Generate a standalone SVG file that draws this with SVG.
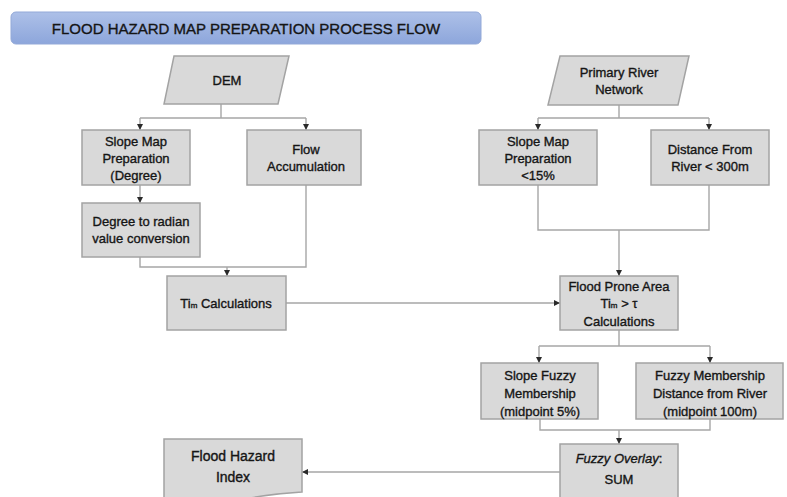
<svg xmlns="http://www.w3.org/2000/svg" width="787" height="497" viewBox="0 0 787 497">
<style>
.box{fill:#d9d9d9;stroke:#a3a3a3;stroke-width:1.5}
.t{font-family:"Liberation Sans",Arial,sans-serif;font-size:13px;fill:#151515;stroke:#151515;stroke-width:0.35;text-anchor:middle}
.c{fill:none;stroke:#a6a6a6;stroke-width:1.4}
</style>
<defs>
<linearGradient id="tg" x1="0" y1="0" x2="0" y2="1">
<stop offset="0" stop-color="#adc0e8"/>
<stop offset="1" stop-color="#8da6db"/>
</linearGradient>
<marker id="ah" viewBox="0 0 6 6" refX="6" refY="3" markerWidth="6" markerHeight="6" markerUnits="userSpaceOnUse" orient="auto">
<path d="M0,0 L6,3 L0,6 Z" fill="#2a2a2a"/>
</marker>
</defs>
<rect width="787" height="497" fill="#ffffff"/>

<g id="title">
<rect x="11" y="12" width="470" height="32" rx="5" fill="url(#tg)" stroke="#93a9d8" stroke-width="1"/>
<text x="246" y="33.5" class="t" style="font-size:15px">FLOOD HAZARD MAP PREPARATION PROCESS FLOW</text>
</g>

<g id="connectors">
<path class="c" d="M221,104 V118 M140,118 H306"/>
<path class="c" d="M140,118 V130" marker-end="url(#ah)"/>
<path class="c" d="M306,118 V130" marker-end="url(#ah)"/>
<path class="c" d="M140,185 V203" marker-end="url(#ah)"/>
<path class="c" d="M140,257 V267 H306 V185"/>
<path class="c" d="M227,267 V276" marker-end="url(#ah)"/>
<path class="c" d="M286,303 H560" marker-end="url(#ah)"/>
<path class="c" d="M619,105 V118 M538,118 H709"/>
<path class="c" d="M538,118 V130" marker-end="url(#ah)"/>
<path class="c" d="M709,118 V130" marker-end="url(#ah)"/>
<path class="c" d="M538,185 V230 H709 V185"/>
<path class="c" d="M619,230 V276" marker-end="url(#ah)"/>
<path class="c" d="M619,330 V346 M539,346 H710"/>
<path class="c" d="M539,346 V363" marker-end="url(#ah)"/>
<path class="c" d="M710,346 V363" marker-end="url(#ah)"/>
<path class="c" d="M540,419 V430 H710 V419"/>
<path class="c" d="M619,430 V444" marker-end="url(#ah)"/>
<path class="c" d="M560,472 H302" marker-end="url(#ah)"/>
</g>

<g id="dem">
<polygon class="box" points="174,56 289,56 278,104 164,104"/>
<text x="227" y="85" class="t">DEM</text>
</g>

<g id="slope-degree">
<rect class="box" x="82" y="130" width="108" height="55"/>
<text x="136" y="146" class="t">Slope Map</text>
<text x="136" y="163" class="t">Preparation</text>
<text x="136" y="180" class="t">(Degree)</text>
</g>

<g id="flow-acc">
<rect class="box" x="247" y="130" width="114" height="55"/>
<text x="306" y="154" class="t">Flow</text>
<text x="306" y="171" class="t">Accumulation</text>
</g>

<g id="deg-rad">
<rect class="box" x="82" y="203" width="118" height="54"/>
<text x="141" y="226" class="t">Degree to radian</text>
<text x="141" y="243" class="t">value conversion</text>
</g>

<g id="ti-calc">
<rect class="box" x="167" y="276" width="119" height="54"/>
<text x="226" y="307.5" class="t">Ti<tspan style="font-size:8px">m</tspan>  Calculations</text>
</g>

<g id="river">
<polygon class="box" points="560,56 689,56 678,105 548,105"/>
<text x="619" y="77" class="t">Primary River</text>
<text x="619" y="94" class="t">Network</text>
</g>

<g id="slope-15">
<rect class="box" x="479" y="130" width="118" height="55"/>
<text x="538" y="146" class="t">Slope Map</text>
<text x="538" y="163" class="t">Preparation</text>
<text x="538" y="180" class="t">&lt;15%</text>
</g>

<g id="dist-river">
<rect class="box" x="651" y="130" width="118" height="55"/>
<text x="710" y="154" class="t">Distance From</text>
<text x="710" y="171" class="t">River &lt; 300m</text>
</g>

<g id="flood-prone">
<rect class="box" x="560" y="276" width="118" height="54"/>
<text x="619" y="290.5" class="t">Flood Prone Area</text>
<text x="619" y="307.5" class="t">Ti<tspan style="font-size:8px">m</tspan> &gt; τ</text>
<text x="619" y="325.5" class="t">Calculations</text>
</g>

<g id="slope-fuzzy">
<rect class="box" x="481" y="363" width="117" height="56"/>
<text x="540" y="379.5" class="t">Slope Fuzzy</text>
<text x="540" y="397.5" class="t">Membership</text>
<text x="540" y="415.5" class="t">(midpoint 5%)</text>
</g>

<g id="dist-fuzzy">
<rect class="box" x="636" y="363" width="147" height="56"/>
<text x="710" y="379.5" class="t">Fuzzy Membership</text>
<text x="710" y="397.5" class="t">Distance from River</text>
<text x="710" y="415.5" class="t">(midpoint 100m)</text>
</g>

<g id="fuzzy-overlay">
<rect class="box" x="560" y="444" width="118" height="60"/>
<text x="619" y="462.5" class="t"><tspan font-style="italic">Fuzzy Overlay</tspan>:</text>
<text x="619" y="483.5" class="t">SUM</text>
</g>

<g id="hazard-index">
<path class="box" d="M164,439 H302 V492 C285,493 265,495 245,499 C225,503 195,503 164,500 Z"/>
<text x="233" y="461" class="t" style="font-size:14px">Flood Hazard</text>
<text x="233" y="482" class="t" style="font-size:14px">Index</text>
</g>
</svg>
